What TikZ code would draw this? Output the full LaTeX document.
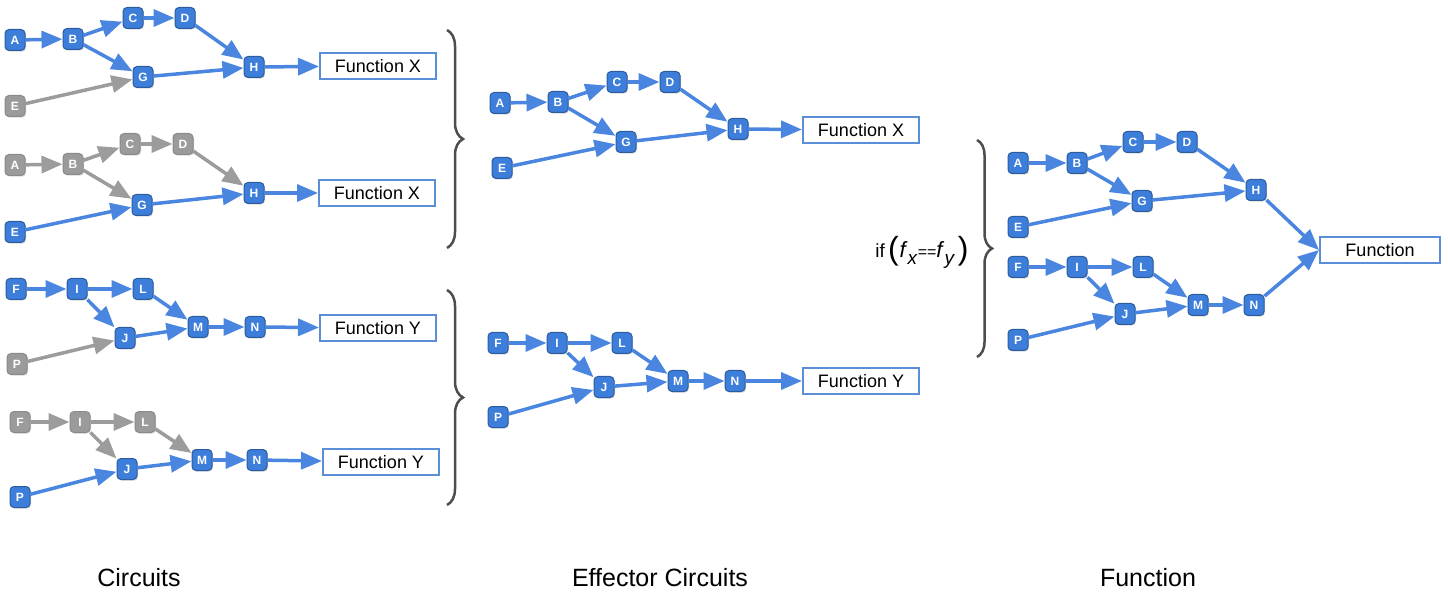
\documentclass[tikz,border=0pt]{standalone}
\usepackage{fontspec}
\setmainfont{Liberation Sans}
\usetikzlibrary{arrows.meta,shadows,decorations.pathreplacing}
\definecolor{nblue}{HTML}{3D7EDB}
\definecolor{nbord}{HTML}{2A5C9E}
\definecolor{ablue}{HTML}{4A86E0}
\definecolor{ngray}{HTML}{9B9B9B}
\definecolor{ngbord}{HTML}{8A8A8A}
\definecolor{agray}{HTML}{9C9C9C}
\definecolor{fbord}{HTML}{5A8ED6}
\definecolor{brc}{HTML}{4D4D4D}
\begin{document}
\begin{tikzpicture}[x=1pt,y=-1pt,
  nd/.style={rectangle, rounded corners=4pt, minimum width=20pt, minimum height=21pt,
    inner sep=0pt, fill=nblue, draw=nbord, line width=1pt, text=white,
    font=\bfseries\fontsize{12}{12}\selectfont,
    drop shadow={shadow xshift=1pt, shadow yshift=-1.2pt, opacity=0.3}},
  gn/.style={nd, fill=ngray, draw=ngbord},
  fn/.style={rectangle, minimum width=116pt, minimum height=26pt, inner sep=0pt,
    fill=white, draw=fbord, line width=2pt, font=\fontsize{18}{18}\selectfont,
    drop shadow={shadow xshift=1pt, shadow yshift=-1.2pt, opacity=0.2}},
  ar/.style={line width=3.5pt, draw=ablue, -{Triangle[length=21pt,width=17pt]}},
  ga/.style={ar, draw=agray},
  br/.style={draw=brc, line width=2.5pt, decorate, decoration={brace, amplitude=16pt}},
  captext/.style={font=\fontsize{25}{25}\selectfont}]
\useasboundingbox (0,0) rectangle (1448,593);

% ---- Circuits, X, first variant (E inactive)
\node[nd] (aA) at (15,40) {A};
\node[nd] (aB) at (73,39) {B};
\node[nd] (aC) at (133,18) {C};
\node[nd] (aD) at (185,18) {D};
\node[nd] (aG) at (143,77) {G};
\node[nd] (aH) at (254,67) {H};
\node[gn] (aE) at (15,106) {E};
\node[fn] (aFX) at (378,66) {Function X};
\draw[ar] (aA) -- (aB);
\draw[ar] (aB) -- (aC);
\draw[ar] (aC) -- (aD);
\draw[ar] (aD) -- (aH);
\draw[ar] (aB) -- (aG);
\draw[ga] (aE) -- (aG);
\draw[ar] (aG) -- (aH);
\draw[ar] (aH) -- (aFX);

% ---- Circuits, X, second variant (A-D inactive)
\node[gn] (bA) at (15,165) {A};
\node[gn] (bB) at (73,164) {B};
\node[gn] (bC) at (130,144) {C};
\node[gn] (bD) at (183,144) {D};
\node[nd] (bG) at (142,205) {G};
\node[nd] (bH) at (254,193) {H};
\node[nd] (bE) at (15,232) {E};
\node[fn] (bFX) at (377,193) {Function X};
\draw[ga] (bA) -- (bB);
\draw[ga] (bB) -- (bC);
\draw[ga] (bC) -- (bD);
\draw[ga] (bD) -- (bH);
\draw[ga] (bB) -- (bG);
\draw[ar] (bE) -- (bG);
\draw[ar] (bG) -- (bH);
\draw[ar] (bH) -- (bFX);

% ---- Circuits, Y, first variant (P inactive)
\node[nd] (cF) at (16,289) {F};
\node[nd] (cI) at (77,289) {I};
\node[nd] (cL) at (143,289) {L};
\node[nd] (cJ) at (125,338) {J};
\node[nd] (cM) at (198,327) {M};
\node[nd] (cN) at (255,327) {N};
\node[gn] (cP) at (17,364) {P};
\node[fn] (cFY) at (378,328) {Function Y};
\draw[ar] (cF) -- (cI);
\draw[ar] (cI) -- (cL);
\draw[ar] (cI) -- (cJ);
\draw[ar] (cL) -- (cM);
\draw[ar] (cJ) -- (cM);
\draw[ar] (cM) -- (cN);
\draw[ga] (cP) -- (cJ);
\draw[ar] (cN) -- (cFY);

% ---- Circuits, Y, second variant (F, I, L inactive)
\node[gn] (dF) at (20,422) {F};
\node[gn] (dI) at (80,422) {I};
\node[gn] (dL) at (145,422) {L};
\node[nd] (dJ) at (127,469) {J};
\node[nd] (dM) at (202,460) {M};
\node[nd] (dN) at (257,460) {N};
\node[nd] (dP) at (20,497) {P};
\node[fn] (dFY) at (381,462) {Function Y};
\draw[ga] (dF) -- (dI);
\draw[ga] (dI) -- (dL);
\draw[ga] (dI) -- (dJ);
\draw[ga] (dL) -- (dM);
\draw[ar] (dP) -- (dJ);
\draw[ar] (dJ) -- (dM);
\draw[ar] (dM) -- (dN);
\draw[ar] (dN) -- (dFY);

% ---- braces grouping the circuits
\draw[br] (447,30) -- (447,248);
\draw[br] (447,290) -- (447,505);

% ---- Effector circuit X
\node[nd] (eA) at (500,103) {A};
\node[nd] (eB) at (558,102) {B};
\node[nd] (eC) at (617,82) {C};
\node[nd] (eD) at (670,82) {D};
\node[nd] (eG) at (626,142) {G};
\node[nd] (eH) at (738,129) {H};
\node[nd] (eE) at (502,168) {E};
\node[fn] (eFX) at (861,130) {Function X};
\draw[ar] (eA) -- (eB);
\draw[ar] (eB) -- (eC);
\draw[ar] (eC) -- (eD);
\draw[ar] (eD) -- (eH);
\draw[ar] (eB) -- (eG);
\draw[ar] (eE) -- (eG);
\draw[ar] (eG) -- (eH);
\draw[ar] (eH) -- (eFX);

% ---- Effector circuit Y
\node[nd] (fF) at (498,343) {F};
\node[nd] (fI) at (557,343) {I};
\node[nd] (fL) at (622,343) {L};
\node[nd] (fJ) at (604,387) {J};
\node[nd] (fM) at (678,381) {M};
\node[nd] (fN) at (735,381) {N};
\node[nd] (fP) at (498,417) {P};
\node[fn] (fFY) at (861,381) {Function Y};
\draw[ar] (fF) -- (fI);
\draw[ar] (fI) -- (fL);
\draw[ar] (fI) -- (fJ);
\draw[ar] (fL) -- (fM);
\draw[ar] (fP) -- (fJ);
\draw[ar] (fJ) -- (fM);
\draw[ar] (fM) -- (fN);
\draw[ar] (fN) -- (fFY);

% ---- condition and brace
\node[font=\fontsize{19}{19}\selectfont, inner sep=0pt] (cond) at (922,252)
  {if\,\raisebox{-2pt}{\fontsize{32}{32}\selectfont(}\kern1pt{\fontsize{22}{22}\selectfont\textit{f}}\raisebox{-7pt}{\fontsize{19}{19}\selectfont\textit{x}}{\fontsize{16}{16}\selectfont==}{\fontsize{22}{22}\selectfont\textit{f}}\raisebox{-7pt}{\fontsize{19}{19}\selectfont\textit{y}}\kern3pt\raisebox{-2pt}{\fontsize{32}{32}\selectfont)}};
\draw[br, decoration={amplitude=15pt}] (977,140) -- (977,357);

% ---- combined function circuit
\node[nd] (gA) at (1018,163) {A};
\node[nd] (gB) at (1077,163) {B};
\node[nd] (gC) at (1133,142) {C};
\node[nd] (gD) at (1187,142) {D};
\node[nd] (gG) at (1142,201) {G};
\node[nd] (gH) at (1256,190) {H};
\node[nd] (gE) at (1018,227) {E};
\node[nd] (gF) at (1018,267) {F};
\node[nd] (gI) at (1077,267) {I};
\node[nd] (gL) at (1143,267) {L};
\node[nd] (gJ) at (1125,314) {J};
\node[nd] (gM) at (1198,305) {M};
\node[nd] (gN) at (1254,305) {N};
\node[nd] (gP) at (1018,340) {P};
\node[fn, minimum width=120pt] (gFn) at (1380,250) {Function};
\draw[ar] (gA) -- (gB);
\draw[ar] (gB) -- (gC);
\draw[ar] (gC) -- (gD);
\draw[ar] (gD) -- (gH);
\draw[ar] (gB) -- (gG);
\draw[ar] (gE) -- (gG);
\draw[ar] (gG) -- (gH);
\draw[ar] (gF) -- (gI);
\draw[ar] (gI) -- (gL);
\draw[ar] (gI) -- (gJ);
\draw[ar] (gL) -- (gM);
\draw[ar] (gP) -- (gJ);
\draw[ar] (gJ) -- (gM);
\draw[ar] (gM) -- (gN);
\draw[ar] (gH) -- (gFn.west);
\draw[ar] (gN) -- (gFn.west);

% ---- column captions
\node[captext] (t1) at (139,578) {Circuits};
\node[captext] (t2) at (660,578) {Effector Circuits};
\node[captext] (t3) at (1148,578) {Function};
\end{tikzpicture}
\end{document}
